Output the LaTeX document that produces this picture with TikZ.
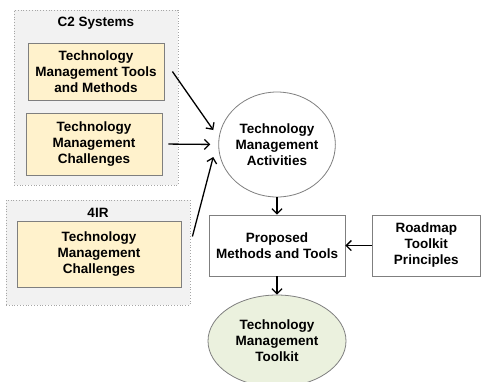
\documentclass[tikz,border=0pt]{standalone}
\usepackage{fontspec}
\setmainfont{Liberation Sans}
\usetikzlibrary{arrows.meta,shapes.geometric}
\definecolor{outerfill}{HTML}{F2F2F2}
\definecolor{outerline}{HTML}{A6A6A6}
\definecolor{yellowfill}{HTML}{FFF2CC}
\definecolor{boxline}{HTML}{7F7F7F}
\definecolor{greenfill}{HTML}{EBF1DE}
\begin{document}
\begin{tikzpicture}[x=1pt,y=-1pt,
  font=\bfseries\fontsize{13.5}{16}\selectfont,
  group/.style={rectangle, draw=outerline, dotted, fill=outerfill, line width=0.8pt, inner sep=0pt},
  ybox/.style={rectangle, draw=boxline, fill=yellowfill, line width=0.8pt, align=center, inner sep=0pt},
  pbox/.style={rectangle, draw=boxline, fill=white, line width=0.8pt, align=center, inner sep=0pt},
  grouptitle/.style={inner sep=0pt},
  arr/.style={-{Straight Barb[length=5pt,width=10pt]}, line width=1.3pt, black}]
\useasboundingbox (0,0) rectangle (481,381);
% groups
\node[group, minimum width=164pt, minimum height=175pt] (c2) at (96,97.5) {};
\node[grouptitle] (c2t) at (96,23) {C2 Systems};
\node[group, minimum width=184pt, minimum height=105pt] (ir) at (98,252.5) {};
\node[grouptitle] (irt) at (98,213) {4IR};
% inner boxes
\node[ybox, minimum width=136pt, minimum height=57pt] (b1) at (96,71.5) {Technology\\Management Tools\\and Methods};
\node[ybox, minimum width=136pt, minimum height=62pt] (b2) at (94,144) {Technology\\Management\\Challenges};
\node[ybox, minimum width=164pt, minimum height=66pt] (b3) at (99,254.5) {Technology\\Management\\Challenges};
% right side
\node[ellipse, draw=boxline, fill=white, line width=0.8pt, minimum width=108pt, minimum height=105pt, align=center, inner sep=0pt] (circ) at (277,144.5) {Technology\\Management\\Activities};
\node[pbox, minimum width=136pt, minimum height=61pt] (prop) at (277,245.5) {Proposed\\Methods and Tools};
\node[pbox, minimum width=108.5pt, minimum height=61pt] (road) at (426.25,245.5) {Roadmap\\Toolkit\\Principles};
\node[ellipse, draw=boxline, fill=greenfill, line width=0.8pt, minimum width=138pt, minimum height=92pt, align=center, inner sep=0pt] (kit) at (277,341) {Technology\\Management\\Toolkit};
% arrows
\draw[arr] ([xshift=8pt]b1.east) -- ([shift={(-5,-14.5)}]circ.west);
\draw[arr, shorten <=6pt, shorten >=8pt] (b2.east) -- (circ.west);
\draw[arr] ([shift={(2,-16)}]ir.east) -- ([shift={(-5,12.5)}]circ.west);
\draw[arr] (circ.south) -- (prop.north);
\draw[arr] (prop.south) -- (kit.north);
\draw[arr] (road.west) -- (prop.east);
\end{tikzpicture}
\end{document}
